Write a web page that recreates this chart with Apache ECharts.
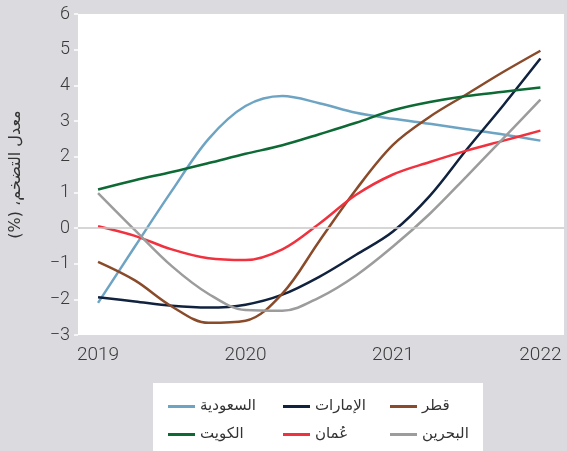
<!DOCTYPE html>
<html>
<head>
<meta charset="utf-8">
<script src="https://cdn.jsdelivr.net/npm/echarts@6/dist/echarts.min.js"></script>
<style>
  html, body { margin: 0; padding: 0; background: #dbdbdf; }
  #chart { width: 567px; height: 451px; }
</style>
</head>
<body>
<div id="chart"></div>
<script>
// quarterly readings, 2019 .. 2022
const periods = [2019, 2019.25, 2019.5, 2019.75, 2020, 2020.25, 2020.5, 2020.75, 2021, 2021.25, 2021.5, 2021.75, 2022];
const yearTicks = [2019, 2020, 2021, 2022];

const saudi   = [-2.1, -0.52, 1.04, 2.5, 3.42, 3.7, 3.5, 3.23, 3.06, 2.92, 2.77, 2.62, 2.45];
const uae     = [-1.94, -2.06, -2.18, -2.23, -2.15, -1.87, -1.37, -0.75, -0.1, 0.9, 2.2, 3.45, 4.75];
const qatar   = [-0.95, -1.47, -2.2, -2.66, -2.6, -1.84, -0.37, 1.08, 2.33, 3.12, 3.75, 4.38, 4.97];
const kuwait  = [1.08, 1.34, 1.57, 1.82, 2.08, 2.32, 2.63, 2.95, 3.3, 3.53, 3.7, 3.82, 3.94];
const oman    = [0.05, -0.22, -0.6, -0.85, -0.9, -0.6, 0.12, 0.93, 1.5, 1.85, 2.17, 2.45, 2.73];
const bahrain = [0.98, -0.06, -1.07, -1.85, -2.3, -2.32, -1.95, -1.33, -0.52, 0.4, 1.45, 2.52, 3.6];

const seriesDefs = [
  { name: 'السعودية', data: saudi, color: '#6ea4c3' },
  { name: 'الإمارات', data: uae, color: '#11223f' },
  { name: 'قطر', data: qatar, color: '#8a4b2b' },
  { name: 'الكويت', data: kuwait, color: '#0e6a35' },
  { name: 'عُمان', data: oman, color: '#f0323f' },
  { name: 'البحرين', data: bahrain, color: '#9c9c9c' }
];

const arFont = 'DejaVu Sans';
const numFont = 'Roboto';

const chart = echarts.init(document.getElementById('chart'));

// one vertical legend per column so the two rows line up
const legendCols = [168, 283, 390];
const legends = legendCols.map((x, i) => ({
  orient: 'vertical',
  left: x,
  top: 399,
  padding: 0,
  itemGap: 13,
  itemWidth: 27,
  itemHeight: 3,
  icon: 'rect',
  selectedMode: false,
  textStyle: { fontFamily: arFont, fontSize: 15, color: '#333' },
  data: [seriesDefs[i].name, seriesDefs[i + 3].name]
}));

const option = {
  animation: false,
  backgroundColor: '#dbdbdf',
  graphic: [
    {
      type: 'rect',
      shape: { x: 153, y: 383, width: 330, height: 70 },
      style: { fill: '#ffffff' },
      z: 0
    }
  ],
  legend: legends,
  grid: {
    left: 75,
    right: 3,
    top: 14,
    bottom: 116,
    show: true,
    backgroundColor: '#ffffff',
    borderWidth: 0
  },
  xAxis: {
    type: 'value',
    min: 2018.864,
    max: 2022.16,
    axisLine: { show: false },
    splitLine: { show: false },
    axisTick: {
      show: true,
      customValues: yearTicks,
      length: 5,
      lineStyle: { color: '#ffffff', width: 1.5 }
    },
    axisLabel: {
      customValues: yearTicks,
      margin: 11,
      fontFamily: numFont,
      fontWeight: 300,
      fontSize: 19,
      color: '#3a3a3a',
      formatter: v => String(Math.round(v))
    }
  },
  yAxis: {
    type: 'value',
    min: -3,
    max: 6,
    interval: 1,
    name: 'معدل التضخم، (%)\u200F',
    nameLocation: 'middle',
    nameRotate: 90,
    nameGap: 40,
    nameTextStyle: { fontFamily: arFont, fontSize: 16, color: '#333', padding: [0, 0, 14, 0] },
    axisLine: { show: false },
    splitLine: { show: false },
    axisTick: { show: true, length: 4, lineStyle: { color: '#ffffff', width: 1.5 } },
    axisLabel: {
      margin: 8,
      fontFamily: numFont,
      fontWeight: 300,
      fontSize: 18,
      color: '#3a3a3a',
      formatter: v => (v < 0 ? '\u2212' + Math.abs(v) : String(v))
    }
  },
  series: [
    {
      // zero reference line, kept under the data lines
      type: 'line',
      data: [],
      z: 1,
      silent: true,
      markLine: {
        symbol: ['none', 'none'],
        label: { show: false },
        lineStyle: { color: '#c8c8c8', width: 1.5, type: 'solid' },
        data: [{ yAxis: 0 }]
      }
    }
  ].concat(seriesDefs.map(s => ({
    name: s.name,
    type: 'line',
    smooth: 0.35,
    showSymbol: false,
    symbol: 'none',
    color: s.color,
    lineStyle: { color: s.color, width: 2.5 },
    data: periods.map((p, i) => [p, s.data[i]])
  })))
};

chart.setOption(option);
</script>
</body>
</html>
